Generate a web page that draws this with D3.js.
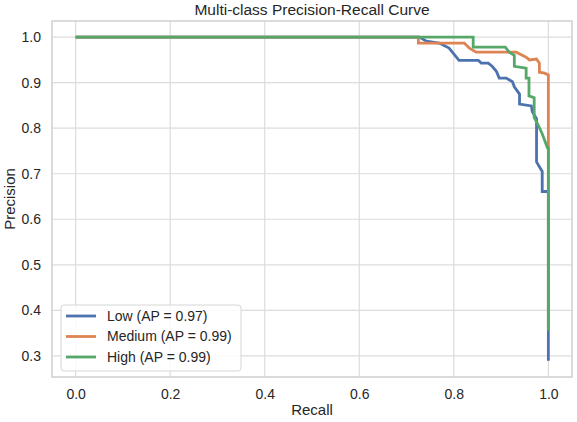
<!DOCTYPE html>
<html>
<head>
<meta charset="utf-8">
<script src="https://cdn.jsdelivr.net/npm/d3@7"></script>
<style>
  body { margin: 0; background: #fff; }
  svg text { font-family: "Liberation Sans", Arial, sans-serif; fill: #262626; }
</style>
</head>
<body>
<div id="chart"></div>
<script>
// Data (recall, precision) pairs
var lowRecall = [0, 0.727, 0.742, 0.769, 0.790, 0.811, 0.852, 0.858, 0.873, 0.881, 0.890, 0.896, 0.911, 0.924, 0.928, 0.939, 0.939, 0.964, 0.966, 0.975, 0.975, 0.987, 0.987, 1.0, 1.0];
var lowPrecision = [1.0, 1.0, 0.991, 0.987, 0.976, 0.949, 0.949, 0.943, 0.943, 0.936, 0.925, 0.910, 0.910, 0.902, 0.891, 0.875, 0.853, 0.849, 0.836, 0.821, 0.726, 0.705, 0.661, 0.661, 0.289];

var mediumRecall = [0, 0.725, 0.725, 0.822, 0.833, 0.847, 0.932, 0.953, 0.960, 0.975, 0.981, 0.981, 0.992, 1.0, 1.0];
var mediumPrecision = [1.0, 1.0, 0.987, 0.987, 0.976, 0.967, 0.967, 0.956, 0.950, 0.952, 0.943, 0.923, 0.921, 0.917, 0.36];

var highRecall = [0, 0.841, 0.841, 0.909, 0.917, 0.928, 0.928, 0.953, 0.953, 0.959, 0.959, 0.970, 0.970, 0.977, 0.987, 0.998, 1.0, 1.0];
var highPrecision = [1.0, 1.0, 0.978, 0.978, 0.967, 0.960, 0.936, 0.932, 0.910, 0.910, 0.871, 0.867, 0.823, 0.810, 0.788, 0.757, 0.757, 0.355];

var seriesNames = ["Low (AP = 0.97)", "Medium (AP = 0.99)", "High (AP = 0.99)"];
var seriesColors = ["#4c72b0", "#dd8452", "#55a868"];
var xTicks = [0.0, 0.2, 0.4, 0.6, 0.8, 1.0];
var yTicks = [0.3, 0.4, 0.5, 0.6, 0.7, 0.8, 0.9, 1.0];

var width = 577,
  height = 422;
var margin = { top: 21, right: 5, bottom: 45, left: 52 };

var svg = d3
  .select("#chart")
  .append("svg")
  .attr("width", width)
  .attr("height", height);

var x = d3
  .scaleLinear()
  .domain([-0.05, 1.05])
  .range([margin.left, width - margin.right]);

var y = d3
  .scaleLinear()
  .domain([0.2535, 1.0355])
  .range([height - margin.bottom, margin.top]);

// Grid
svg
  .append("g")
  .selectAll("line")
  .data(xTicks)
  .enter()
  .append("line")
  .attr("x1", (d) => x(d))
  .attr("x2", (d) => x(d))
  .attr("y1", margin.top)
  .attr("y2", height - margin.bottom)
  .attr("stroke", "#dcdcdc")
  .attr("stroke-width", 1.2);

svg
  .append("g")
  .selectAll("line")
  .data(yTicks)
  .enter()
  .append("line")
  .attr("x1", margin.left)
  .attr("x2", width - margin.right)
  .attr("y1", (d) => y(d))
  .attr("y2", (d) => y(d))
  .attr("stroke", "#dcdcdc")
  .attr("stroke-width", 1.2);

// Frame
svg
  .append("rect")
  .attr("x", margin.left)
  .attr("y", margin.top)
  .attr("width", width - margin.left - margin.right)
  .attr("height", height - margin.top - margin.bottom)
  .attr("fill", "none")
  .attr("stroke", "#cfcfcf")
  .attr("stroke-width", 1.5);

// Axes (no tick marks, seaborn whitegrid look)
var xAxis = svg
  .append("g")
  .attr("transform", "translate(0," + (height - margin.bottom) + ")")
  .call(d3.axisBottom(x).tickValues(xTicks).tickFormat(d3.format(".1f")).tickSize(0).tickPadding(12));
xAxis.select(".domain").remove();
xAxis.selectAll("text").style("font-size", "14px").style("fill", "#262626");

var yAxis = svg
  .append("g")
  .attr("transform", "translate(" + margin.left + ",0)")
  .call(d3.axisLeft(y).tickValues(yTicks).tickFormat(d3.format(".1f")).tickSize(0).tickPadding(11));
yAxis.select(".domain").remove();
yAxis.selectAll("text").style("font-size", "14px").style("fill", "#262626");

// Curves
var line = d3
  .line()
  .x((d) => x(d[0]))
  .y((d) => y(d[1]));

var curves = [
  d3.zip(lowRecall, lowPrecision),
  d3.zip(mediumRecall, mediumPrecision),
  d3.zip(highRecall, highPrecision),
];

curves.forEach(function (pts, i) {
  svg
    .append("path")
    .datum(pts)
    .attr("d", line)
    .attr("fill", "none")
    .attr("stroke", seriesColors[i])
    .attr("stroke-width", 2.8)
    .attr("stroke-linejoin", "miter");
});

// Title and labels
svg
  .append("text")
  .attr("x", (margin.left + width - margin.right) / 2)
  .attr("y", 15)
  .attr("text-anchor", "middle")
  .style("font-size", "15.5px")
  .text("Multi-class Precision-Recall Curve");

svg
  .append("text")
  .attr("x", (margin.left + width - margin.right) / 2)
  .attr("y", 415)
  .attr("text-anchor", "middle")
  .style("font-size", "15px")
  .text("Recall");

svg
  .append("text")
  .attr("transform", "translate(15," + (margin.top + height - margin.bottom) / 2 + ") rotate(-90)")
  .attr("text-anchor", "middle")
  .style("font-size", "15px")
  .text("Precision");

// Legend
var legend = svg.append("g").attr("transform", "translate(61,305)");
legend
  .append("rect")
  .attr("width", 180)
  .attr("height", 66)
  .attr("rx", 3)
  .attr("fill", "#fff")
  .attr("fill-opacity", 0.85)
  .attr("stroke", "#d6d6d6")
  .attr("stroke-width", 1);

var items = legend
  .selectAll("g.item")
  .data(seriesNames)
  .enter()
  .append("g")
  .attr("class", "item")
  .attr("transform", (d, i) => "translate(0," + (11 + i * 20.5) + ")");

items
  .append("line")
  .attr("x1", 5)
  .attr("x2", 35)
  .attr("stroke", (d, i) => seriesColors[i])
  .attr("stroke-width", 2.8);

items
  .append("text")
  .attr("x", 46)
  .attr("dy", "0.35em")
  .style("font-size", "14px")
  .text((d) => d);
</script>
</body>
</html>
